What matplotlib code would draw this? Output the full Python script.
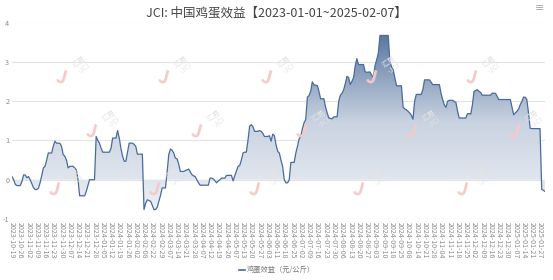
import numpy as np
import matplotlib
matplotlib.use("Agg")
import matplotlib.pyplot as plt
from matplotlib.colors import LinearSegmentedColormap
from matplotlib.patches import PathPatch
from matplotlib.lines import Line2D

plt.rcParams['font.family'] = ['Noto Sans CJK SC', 'DejaVu Sans']

TITLE = "JCI: 中国鸡蛋效益【2023-01-01~2025-02-07】"
SERIES_NAME = "鸡蛋效益（元/公斤）"

# shown category labels (every 5th trading day)
tick_labels = [
    "2023-10-19", "2023-10-26", "2023-11-02", "2023-11-09", "2023-11-16",
    "2023-11-23", "2023-11-30", "2023-12-07", "2023-12-14", "2023-12-21",
    "2023-12-28", "2024-01-05", "2024-01-12", "2024-01-19", "2024-01-26",
    "2024-02-02", "2024-02-08", "2024-02-22", "2024-02-29", "2024-03-07",
    "2024-03-14", "2024-03-21", "2024-03-28", "2024-04-07", "2024-04-12",
    "2024-04-19", "2024-04-26", "2024-05-07", "2024-05-13", "2024-05-20",
    "2024-05-27", "2024-06-03", "2024-06-11", "2024-06-18", "2024-06-25",
    "2024-07-02", "2024-07-09", "2024-07-16", "2024-07-23", "2024-07-30",
    "2024-08-06", "2024-08-13", "2024-08-20", "2024-08-27", "2024-09-03",
    "2024-09-10", "2024-09-18", "2024-09-25", "2024-10-08", "2024-10-14",
    "2024-10-21", "2024-10-28", "2024-11-04", "2024-11-11", "2024-11-18",
    "2024-11-25", "2024-12-02", "2024-12-09", "2024-12-16", "2024-12-23",
    "2024-12-30", "2025-01-07", "2025-01-14", "2025-01-21", "2025-01-27",
]

# daily values, one row per labelled week (元/公斤)
values = [
    0.08, 0.0, -0.12, -0.15, -0.15,
    -0.15, -0.05, 0.12, 0.12, 0.05,
    0.08, 0.0, -0.1, -0.2, -0.25,
    -0.25, -0.22, -0.08, 0.1, 0.3,
    0.34, 0.5, 0.68, 0.68, 0.68,
    0.85, 0.98, 0.93, 0.93, 0.93,
    0.85, 0.64, 0.6, 0.5, 0.3,
    0.34, 0.34, 0.34, 0.3, 0.25,
    0.0, -0.41, -0.41, -0.41, -0.41,
    -0.3, -0.15, 0.0, 0.0, 0.0,
    0.0, 1.1, 1.0, 0.93, 0.8,
    0.7, 0.7, 0.7, 0.7, 0.7,
    0.8, 1.06, 1.06, 1.06, 1.25,
    1.06, 0.8, 0.6, 0.47, 0.47,
    0.7, 0.93, 0.93, 0.93, 0.9,
    0.85, 0.65, 0.65, 0.65, 0.65,
    -0.76, -0.6, -0.51, -0.53, -0.55,
    -0.65, -0.76, -0.76, -0.7, -0.55,
    -0.4, -0.21, -0.21, -0.21, 0.2,
    0.64, 0.78, 0.75, 0.68, 0.55,
    0.53, 0.4, 0.21, 0.21, 0.21,
    0.23, 0.25, 0.27, 0.2, 0.13,
    0.1, 0.08, 0.0, -0.08, -0.14,
    -0.14, -0.14, -0.14, -0.14, -0.14,
    0.04, 0.04, 0.02, -0.03, -0.08,
    -0.03, 0.0, 0.04, 0.04, 0.04,
    0.11, 0.11, 0.11, 0.11, -0.03,
    0.1, 0.22, 0.34, 0.36, 0.5,
    0.68, 0.7, 0.7, 1.0, 1.36,
    1.4, 1.35, 1.23, 1.23, 1.23,
    1.25, 1.23, 1.18, 1.1, 1.1,
    1.1, 1.12, 0.98, 1.16, 1.12,
    0.89, 0.72, 0.68, 0.5, 0.34,
    0.0, -0.08, -0.08, 0.0, 0.44,
    0.44, 0.44, 0.68, 0.85, 1.04,
    1.1, 1.3, 1.45, 1.53, 2.1,
    2.14, 2.25, 2.49, 2.42, 2.4,
    2.4, 2.25, 2.06, 2.06, 2.06,
    1.85, 1.7, 1.57, 1.56, 1.55,
    1.6, 1.6, 1.6, 2.0, 2.15,
    2.2, 2.29, 2.45, 2.63, 2.6,
    2.42, 2.5, 2.6, 2.9, 3.08,
    2.93, 2.93, 2.93, 2.93, 2.75,
    2.73, 2.74, 2.74, 2.66, 2.6,
    2.9, 3.05, 3.22, 3.67, 3.67,
    3.67, 3.67, 3.67, 3.67, 3.0,
    2.88, 2.8, 2.6, 2.39, 2.39,
    2.39, 2.39, 1.85, 1.8, 1.78,
    1.74, 1.7, 1.64, 1.54, 2.0,
    2.17, 2.17, 2.17, 2.17, 2.3,
    2.54, 2.54, 2.54, 2.54, 2.48,
    2.42, 2.42, 2.42, 2.42, 2.42,
    2.2, 2.04, 1.9, 1.84, 2.0,
    2.02, 2.02, 2.02, 1.99, 1.97,
    1.75, 1.57, 1.57, 1.57, 1.57,
    1.57, 1.68, 1.68, 1.67, 1.9,
    2.25, 2.27, 2.29, 2.25, 2.22,
    2.15, 2.15, 2.15, 2.15, 2.15,
    2.15, 2.2, 2.2, 2.2, 2.12,
    2.04, 2.04, 2.04, 2.04, 2.04,
    2.04, 2.04, 2.04, 1.85, 1.65,
    1.7, 1.74, 1.8, 1.91, 1.99,
    2.1, 2.1, 2.04, 1.7, 1.31,
    1.3, 1.3, 1.3, 1.3, 1.3,
    1.3, -0.25, -0.27, -0.3,
]

y_ticks = [-1, 0, 1, 2, 3, 4]
LABEL_STEP = 5

LINE_COLOR = "#4a6b9b"
GRID_COLOR = "#e3e3e3"
TEXT_COLOR = "#8a8a8a"

vals = np.array(values)
x = np.arange(len(vals))

fig = plt.figure(figsize=(5.53, 2.80), dpi=100)
W, H = 553, 280
ax = fig.add_axes([12 / W, 1 - 219 / H, (545 - 12) / W, (219 - 22.5) / H])

# gradient area between line and zero
cmap = LinearSegmentedColormap.from_list("area", ["#edf0f5", "#c9d3e1", "#5b78a2"])
grad = np.linspace(0, 1, 256).reshape(-1, 1)
fill = ax.fill_between(x, vals, 0, color="none", lw=0)
img = ax.imshow(grad, extent=[x[0], x[-1], vals.min(), vals.max()], origin="lower",
                aspect="auto", cmap=cmap, zorder=1, interpolation="bicubic")
for p in fill.get_paths():
    img.set_clip_path(PathPatch(p, transform=ax.transData))

ax.plot(x, vals, color=LINE_COLOR, lw=0.9, zorder=3)

for yv in y_ticks:
    ax.axhline(yv, color=GRID_COLOR, lw=0.8, zorder=0)

ax.set_xlim(x[0], x[-1])
ax.set_ylim(y_ticks[0], y_ticks[-1])
ax.set_yticks(y_ticks)
ax.set_yticklabels([str(t) for t in y_ticks], fontsize=5.2, color=TEXT_COLOR)
ax.tick_params(axis="y", length=0, pad=2)

tick_pos = np.arange(0, len(tick_labels) * LABEL_STEP, LABEL_STEP)
ax.set_xticks(tick_pos)
ax.set_xticklabels(tick_labels, rotation=-90, fontsize=5.1, color=TEXT_COLOR,
                   va="top", ha="center")
ax.tick_params(axis="x", length=0, pad=2)
for s in ax.spines.values():
    s.set_visible(False)

# faint watermarks
wm_pos = [(75, 68), (177, 68), (280, 68), (385, 68), (485, 68),
          (105, 122), (210, 122), (315, 122), (425, 122), (528, 122),
          (68, 180), (168, 180), (268, 180), (372, 180), (476, 180)]
for px, py in wm_pos:
    fx, fy = px / W, 1 - py / H
    fig.text(fx - 0.025, fy - 0.035, "J", fontsize=13, color="#f6c9c9", rotation=-15,
             ha="center", va="center", fontweight="bold", zorder=0)
    fig.text(fx + 0.012, fy + 0.01, "汇易\n-JCI", fontsize=5.5, color="#e4e4e4",
             rotation=35, ha="center", va="center", linespacing=1.0, zorder=0)

fig.text(0.5, 1 - 13 / H, TITLE, fontsize=9, color="#444444", ha="center", va="center")
fig.text(540 / W, 1 - 8 / H, "≡", fontsize=8, color="#aaaaaa", ha="center", va="center",
         family="DejaVu Sans")

# legend
fig.add_artist(Line2D([239 / W, 245 / W], [1 - 270 / H, 1 - 270 / H], color=LINE_COLOR, lw=1.2))
fig.text(247 / W, 1 - 270 / H, SERIES_NAME, fontsize=5.2, color="#777777", ha="left", va="center")

fig.savefig("out.png", dpi=100)
